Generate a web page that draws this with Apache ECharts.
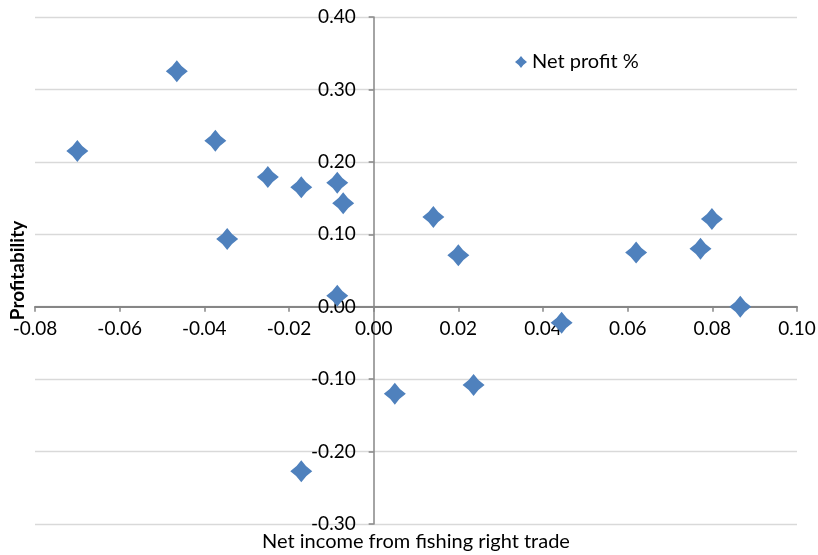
<!DOCTYPE html>
<html>
<head>
<meta charset="utf-8">
<script src="https://cdn.jsdelivr.net/npm/echarts@6/dist/echarts.min.js"></script>
<style>
  html, body { margin: 0; padding: 0; background: #fff; }
  #chart { width: 818px; height: 555px; }
</style>
</head>
<body>
<div id="chart"></div>
<script>
// net income from fishing right trade (x) vs profitability (y)
let netIncome = [-0.0700, -0.0465, -0.0374, -0.0346, -0.0250, -0.0171, -0.0086, -0.0072, -0.0086, -0.0171,
                 0.0050, 0.0141, 0.0200, 0.0236, 0.0444, 0.0620, 0.0772, 0.0799, 0.0866];
let netProfit = [0.215, 0.325, 0.229, 0.0935, 0.179, 0.165, 0.171, 0.143, 0.015, -0.227,
                 -0.120, 0.124, 0.071, -0.108, -0.022, 0.075, 0.080, 0.121, 0.000];
let seriesName = 'Net profit %';
let xTitle = 'Net income from fishing right trade';
let yTitle = 'Profitability';

let points = netIncome.map(function (x, i) { return [x, netProfit[i]]; });

function fmt(v) {
  if (Math.abs(v) < 1e-9) return '0.00';
  return v.toFixed(2);
}

// diamond with slightly pinched sides, like the excel marker
let star = 'path://M50,0 Q70,30 100,50 Q70,70 50,100 Q30,70 0,50 Q30,30 50,0Z';
let font = 'Lato, "Open Sans", sans-serif';

// plot box in pixels; the axes cross at (0,0) so they are shifted inward
let box = { left: 35, right: 21, top: 17, bottom: 31 };
let plotW = 818 - box.left - box.right;
let plotH = 555 - box.top - box.bottom;
let yShift = plotW * (0 - (-0.08)) / (0.10 - (-0.08));
let xShift = plotH * (0 - (-0.3)) / (0.4 - (-0.3));

let myChart = echarts.init(document.getElementById('chart'));
myChart.setOption({
  animation: false,
  textStyle: { fontFamily: font },
  grid: { left: box.left, right: box.right, top: box.top, bottom: box.bottom, containLabel: false, outerBoundsMode: 'none' },
  legend: {
    data: [{ name: seriesName, icon: star }],
    left: 510,
    top: 47,
    itemWidth: 12,
    itemHeight: 12,
    textStyle: { fontSize: 20, color: '#000', fontFamily: font }
  },
  xAxis: {
    type: 'value',
    position: 'bottom',
    offset: -xShift,
    min: -0.08,
    max: 0.10,
    interval: 0.02,
    name: xTitle,
    nameLocation: 'middle',
    nameGap: xShift + 8,
    nameTextStyle: { fontSize: 20, color: '#000', fontFamily: font },
    axisLine: { onZero: false, lineStyle: { color: '#868686', width: 2 } },
    axisTick: { show: true, inside: false, length: 5, lineStyle: { color: '#868686', width: 1.5 } },
    axisLabel: { formatter: fmt, fontSize: 19, color: '#000', margin: 13 },
    splitLine: { show: false }
  },
  yAxis: {
    type: 'value',
    position: 'left',
    offset: -yShift,
    min: -0.3,
    max: 0.4,
    interval: 0.1,
    name: yTitle,
    nameLocation: 'middle',
    nameRotate: 90,
    nameGap: yShift + 8,
    nameTextStyle: { fontSize: 19, fontWeight: 'bold', color: '#000', fontFamily: font },
    axisLine: { onZero: false, lineStyle: { color: '#868686', width: 1.5 } },
    axisTick: { show: true, inside: false, length: 5, lineStyle: { color: '#868686', width: 1.5 } },
    axisLabel: { formatter: fmt, fontSize: 19, color: '#000', margin: 18 },
    splitLine: { show: true, lineStyle: { color: '#d9d9d9', width: 1.3 } }
  },
  series: [{
    name: seriesName,
    type: 'scatter',
    symbol: star,
    symbolSize: 22,
    itemStyle: { color: '#4f81bd', opacity: 1 },
    data: points
  }]
});
</script>
</body>
</html>
